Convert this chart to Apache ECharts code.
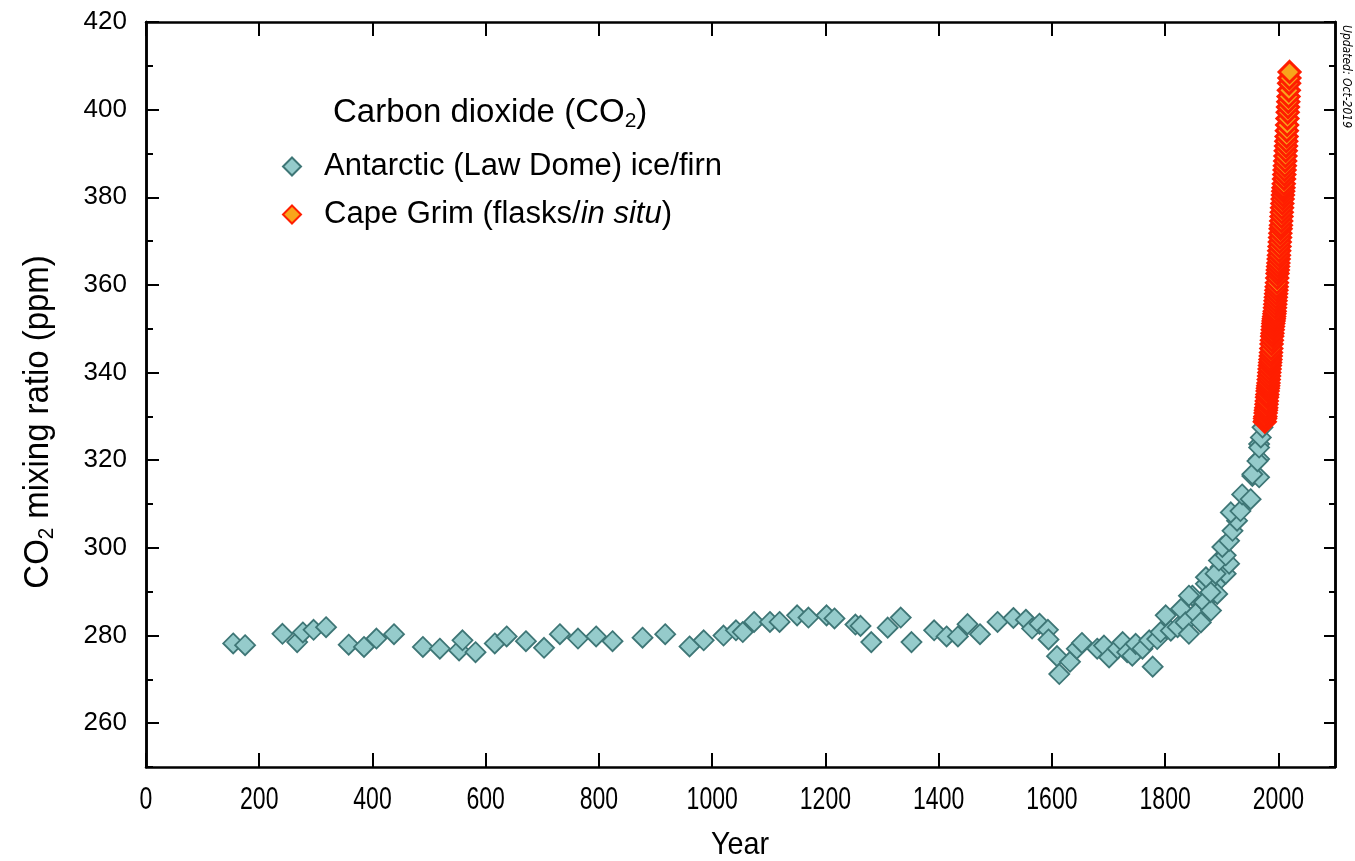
<!DOCTYPE html>
<html>
<head>
<meta charset="utf-8">
<title>CO2 Law Dome / Cape Grim</title>
<script src="https://cdn.jsdelivr.net/npm/echarts@6/dist/echarts.min.js"></script>
<style>
  html, body { margin: 0; padding: 0; background: #fff; }
  #chart { width: 1355px; height: 861px; }
</style>
</head>
<body>
<div id="chart"></div>
<script>
// Law Dome ice/firn samples (year, ppm)
const lawDomeYears = [
  154, 175, 241, 267, 277, 296, 318, 358, 385, 407, 438, 489, 519, 553, 559, 582, 616, 637, 671, 703,
  731, 763, 795, 824, 877, 917, 960, 985, 1020, 1042, 1054, 1074, 1102, 1119, 1150, 1170, 1202, 1216, 1253, 1262,
  1281, 1310, 1333, 1352, 1392, 1414, 1434, 1451, 1473, 1504, 1532, 1554, 1565, 1578, 1593, 1594, 1609, 1613, 1632, 1644,
  1653, 1680, 1692, 1701, 1716, 1725, 1733, 1742, 1748, 1760, 1772, 1778, 1786, 1792, 1801, 1810, 1822, 1828, 1836, 1842,
  1848, 1854, 1863, 1869, 1872, 1881, 1889, 1892, 1898, 1907, 1913, 1842, 1880, 1872, 1889, 1895, 1907, 1901, 1913, 1919,
  1927, 1916, 1933, 1936, 1951, 1954, 1966, 1966, 1966, 1954, 1963, 1966, 1969, 1972, 1975
];
const lawDomePpm = [
  278.2, 277.8, 280.4, 278.5, 280.7, 281.3, 281.9, 277.9, 277.4, 279.3, 280.3, 277.4, 277.0, 276.6, 278.9, 276.2, 278.2, 279.8, 278.7, 277.2,
  280.3, 279.3, 279.8, 278.7, 279.5, 280.3, 277.5, 278.9, 280.0, 281.2, 280.8, 283.1, 283.1, 283.1, 284.6, 284.1, 284.6, 283.9, 282.5, 282.2,
  278.5, 281.8, 284.1, 278.5, 281.2, 279.8, 279.8, 282.6, 280.3, 283.1, 284.0, 283.6, 281.6, 282.7, 281.3, 279.1, 275.3, 271.2, 274.0, 277.0,
  278.3, 277.0, 277.7, 275.0, 277.0, 278.5, 276.2, 275.4, 278.1, 277.0, 278.9, 272.9, 279.2, 280.8, 284.6, 281.1, 281.9, 286.1, 283.0, 280.4,
  289.1, 285.0, 283.0, 287.6, 291.8, 285.7, 291.8, 289.5, 295.6, 294.1, 296.4, 289.1, 289.9, 293.3, 294.1, 297.1, 298.3, 300.2, 301.6, 303.9,
  306.2, 308.1, 308.4, 312.2, 311.1, 316.4, 316.1, 320.3, 323.7, 316.8, 319.8, 322.9, 325.2, 327.5, 329.0
];

// Cape Grim flasks / in situ (year, ppm)
const capeGrimYears = [
  1976.0, 1976.5, 1977.0, 1977.5, 1978.0, 1978.5, 1979.0, 1979.5, 1980.0, 1980.5, 1981.0, 1981.5, 1982.0, 1982.5,
  1983.0, 1983.5, 1984.0, 1984.5, 1985.0, 1985.5, 1986.0, 1986.5, 1987.0, 1987.5, 1988.0, 1988.5, 1989.0, 1989.5,
  1990.0, 1990.5, 1991.0, 1991.5, 1992.0, 1992.5, 1993.0, 1993.5, 1994.0, 1994.5, 1995.0, 1995.5, 1996.0, 1996.5,
  1997.0, 1997.5, 1998.0, 1998.5, 1999.0, 1999.5, 2000.0, 2000.5, 2001.0, 2001.5, 2002.0, 2002.5, 2003.0, 2003.5,
  2004.0, 2004.5, 2005.0, 2005.5, 2006.0, 2006.5, 2007.0, 2007.5, 2008.0, 2008.5, 2009.0, 2009.5, 2010.0, 2010.5,
  2011.0, 2011.5, 2012.0, 2012.5, 2013.0, 2013.5, 2014.0, 2014.5, 2015.0, 2015.5, 2016.0, 2016.5, 2017.0, 2017.5,
  2018.0, 2018.5, 2019.0, 2019.5, 2019.75
];
const capeGrimPpm = [
  328.8, 329.5, 330.0, 330.8, 331.4, 332.0, 332.8, 333.5, 334.4, 335.0, 335.8, 336.4, 337.0, 337.6,
  338.4, 339.2, 340.0, 340.8, 341.6, 342.3, 343.0, 343.8, 344.6, 345.5, 346.5, 347.4, 348.3, 349.0,
  349.8, 350.5, 351.2, 351.8, 352.3, 352.8, 353.4, 354.0, 354.8, 355.6, 356.4, 357.2, 358.0, 358.8,
  359.6, 360.5, 361.6, 362.6, 363.4, 364.2, 365.0, 365.9, 366.8, 367.8, 368.8, 369.8, 370.8, 371.8,
  372.8, 373.6, 374.6, 375.6, 376.6, 377.6, 378.6, 379.6, 380.5, 381.4, 382.2, 383.1, 384.2, 385.2,
  386.2, 387.2, 388.3, 389.4, 390.6, 391.7, 392.8, 393.9, 395.2, 396.5, 398.0, 399.4, 400.6, 401.8,
  403.0, 404.4, 406.0, 407.2, 408.6
];

// tick values
const xTicks = [0, 200, 400, 600, 800, 1000, 1200, 1400, 1600, 1800, 2000];
const yMajor = [260, 280, 300, 320, 340, 360, 380, 400, 420];
const yMinor = [250, 270, 290, 310, 330, 350, 370, 390, 410];

const lawDome = lawDomeYears.map((y, i) => [y, lawDomePpm[i]]);
const capeGrim = capeGrimYears.map((y, i) => [y, capeGrimPpm[i]]);

const SANS = "'Liberation Sans', Arial, sans-serif";
const NARROW = "'DejaVu Sans Condensed', 'Liberation Sans Narrow', sans-serif";
const lineBlack = { color: '#000', width: 2.5 };
const tickStyle = { color: '#000', width: 2 };

function frameAxis(extra) {
  return Object.assign({
    type: 'value',
    axisLine: { show: true, onZero: false, lineStyle: lineBlack },
    splitLine: { show: false },
    axisLabel: { show: false },
    axisTick: { show: false }
  }, extra);
}

const chart = echarts.init(document.getElementById('chart'));
chart.setOption({
  backgroundColor: '#fff',
  animation: false,
  grid: { left: 146, right: 20, top: 22, bottom: 94, containLabel: false },
  xAxis: [
    frameAxis({
      position: 'bottom', min: 0, max: 2100,
      axisTick: { show: true, inside: true, length: 14, customValues: xTicks, lineStyle: tickStyle }
    }),
    frameAxis({
      position: 'top', min: 0, max: 2100,
      axisTick: { show: true, inside: true, length: 14, customValues: xTicks, lineStyle: tickStyle }
    })
  ],
  yAxis: [
    frameAxis({
      position: 'left', min: 250, max: 420,
      axisTick: { show: true, inside: true, length: 13, customValues: yMajor, lineStyle: tickStyle },
      axisLabel: { show: true, customValues: yMajor, margin: 19, color: '#000', fontSize: 26, fontFamily: SANS }
    }),
    frameAxis({
      position: 'left', min: 250, max: 420,
      axisTick: { show: true, inside: true, length: 7, customValues: yMinor, lineStyle: tickStyle }
    }),
    frameAxis({
      position: 'right', min: 250, max: 420,
      axisTick: { show: true, inside: true, length: 11, customValues: yMajor, lineStyle: tickStyle }
    }),
    frameAxis({
      position: 'right', min: 250, max: 420,
      axisTick: { show: true, inside: true, length: 6, customValues: yMinor, lineStyle: tickStyle }
    })
  ],
  legend: {
    orient: 'vertical', left: 277, top: 146,
    itemWidth: 18, itemHeight: 18, itemGap: 17,
    icon: 'diamond',
    data: ['Antarctic (Law Dome) ice/firn', 'Cape Grim (flasks/in situ)'],
    formatter: function (name) {
      return name === 'Cape Grim (flasks/in situ)' ? 'Cape Grim (flasks/{i|in situ})' : name;
    },
    textStyle: {
      color: '#000', fontSize: 31, fontFamily: SANS, padding: [0, 0, 0, 18],
      rich: { i: { fontStyle: 'italic', fontSize: 31, fontFamily: SANS, color: '#000' } }
    }
  },
  series: [
    {
      name: 'Antarctic (Law Dome) ice/firn', type: 'scatter', symbol: 'diamond', symbolSize: 20,
      data: lawDome,
      itemStyle: { color: '#95CBCB', borderColor: '#3E7676', borderWidth: 1.8, opacity: 1 }
    },
    {
      name: 'Cape Grim (flasks/in situ)', type: 'scatter', symbol: 'diamond', symbolSize: 21,
      data: capeGrim,
      itemStyle: { color: '#F8A51B', borderColor: '#FF1E00', borderWidth: 3, opacity: 1 }
    }
  ]
});

// condensed tick labels for the year axis, placed through the axis scale
const yearLabels = xTicks.map(v => ({
  type: 'text', id: 'xl' + v,
  x: chart.convertToPixel({ xAxisIndex: 0 }, v), y: 800, scaleX: 0.72,
  style: { text: String(v), fill: '#000', fontSize: 32, fontFamily: SANS, align: 'center', verticalAlign: 'middle' }
}));

chart.setOption({
  graphic: yearLabels.concat([
    {
      type: 'text', id: 'xname', x: 740, y: 845, scaleX: 0.9,
      style: { text: 'Year', fill: '#000', fontSize: 32, fontFamily: SANS, align: 'center', verticalAlign: 'middle' }
    },
    {
      type: 'text', id: 'title', left: 333, top: 96,
      style: {
        text: 'Carbon dioxide (CO{s|2})', fill: '#000', fontSize: 33, fontFamily: SANS,
        rich: { s: { fontSize: 21, fontFamily: SANS, fill: '#000', verticalAlign: 'top', padding: [17, 0, 0, 0] } }
      }
    },
    {
      // y axis title, bottom-to-top
      type: 'text', id: 'yname', x: 38, y: 422, rotation: Math.PI / 2, scaleX: 0.94,
      style: {
        text: 'CO{s|2} mixing ratio (ppm)', fill: '#000', fontSize: 35, fontFamily: SANS,
        align: 'center', verticalAlign: 'middle',
        rich: { s: { fontSize: 22, fontFamily: SANS, fill: '#000', verticalAlign: 'top', padding: [18, 0, 0, 0] } }
      }
    },
    {
      type: 'text', id: 'updated', x: 1352, y: 25, rotation: -Math.PI / 2,
      style: { text: 'Updated: Oct-2019', fill: '#000', fontSize: 12, fontStyle: 'italic', fontFamily: NARROW }
    }
  ])
});
</script>
</body>
</html>
